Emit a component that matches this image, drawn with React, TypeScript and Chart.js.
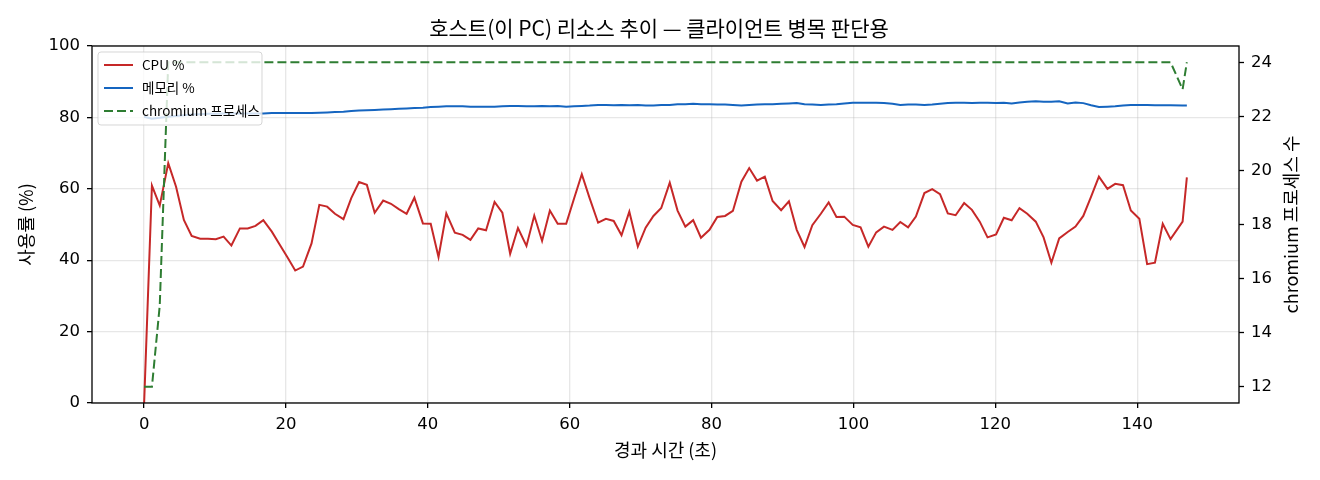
import React, { useEffect, useRef } from "react";
import { Chart, registerables } from "chart.js";

Chart.register(...registerables);

// elapsed time (s) of each sample
const times = [
  0.0, 1.1, 2.2, 3.4, 4.5, 5.6, 6.7, 7.9, 9.0, 10.1,
  11.2, 12.3, 13.5, 14.6, 15.7, 16.8, 18.0, 19.1, 20.2, 21.3,
  22.4, 23.6, 24.7, 25.8, 26.9, 28.1, 29.2, 30.3, 31.4, 32.5,
  33.7, 34.8, 35.9, 37.0, 38.1, 39.3, 40.4, 41.5, 42.6, 43.8,
  44.9, 46.0, 47.1, 48.2, 49.4, 50.5, 51.6, 52.7, 53.9, 55.0,
  56.1, 57.2, 58.3, 59.5, 60.6, 61.7, 62.8, 64.0, 65.1, 66.2,
  67.3, 68.4, 69.6, 70.7, 71.8, 72.9, 74.1, 75.2, 76.3, 77.4,
  78.5, 79.7, 80.8, 81.9, 83.0, 84.2, 85.3, 86.4, 87.5, 88.6,
  89.8, 90.9, 92.0, 93.1, 94.2, 95.4, 96.5, 97.6, 98.7, 99.9,
  101.0, 102.1, 103.2, 104.3, 105.5, 106.6, 107.7, 108.8, 110.0, 111.1,
  112.2, 113.3, 114.4, 115.6, 116.7, 117.8, 118.9, 120.1, 121.2, 122.3,
  123.4, 124.5, 125.7, 126.8, 127.9, 129.0, 130.2, 131.3, 132.4, 133.5,
  134.6, 135.8, 136.9, 138.0, 139.1, 140.3, 141.4, 142.5, 143.6, 144.7,
  146.4, 147.0,
];

const cpuPercent = [
  0.0, 60.9, 55.3, 67.2, 60.6, 51.3, 46.8, 46.0, 46.0, 45.9,
  46.6, 44.1, 48.9, 48.9, 49.6, 51.2, 48.0, 44.4, 40.8, 37.1,
  38.2, 44.7, 55.5, 55.0, 53.0, 51.5, 57.4, 61.9, 61.1, 53.3,
  56.7, 55.8, 54.3, 53.0, 57.5, 50.3, 50.2, 40.9, 53.1, 47.7,
  47.1, 45.7, 48.9, 48.4, 56.3, 53.3, 41.8, 49.0, 44.0, 52.5,
  45.4, 53.9, 50.2, 50.2, 57.2, 64.1, 57.4, 50.5, 51.6, 51.0,
  47.0, 53.6, 43.8, 49.1, 52.4, 54.6, 61.7, 53.9, 49.4, 51.2,
  46.3, 48.5, 52.1, 52.4, 53.8, 62.0, 65.8, 62.3, 63.4, 56.6,
  54.0, 56.5, 48.5, 43.7, 49.8, 53.0, 56.2, 52.1, 52.2, 49.9,
  49.2, 43.8, 47.8, 49.4, 48.5, 50.7, 49.2, 52.2, 58.8, 59.9,
  58.5, 53.1, 52.6, 56.0, 54.1, 50.8, 46.4, 47.2, 51.9, 51.2,
  54.6, 53.0, 50.8, 46.4, 39.3, 46.1, 47.9, 49.4, 52.4, 57.8,
  63.4, 60.0, 61.4, 61.0, 53.9, 51.6, 38.9, 39.3, 50.2, 45.9,
  50.8, 63.2,
];

const memoryPercent = [
  80.2, 79.6, 79.9, 80.2, 80.4, 80.6, 80.8, 80.9, 81.0, 81.0,
  81.1, 81.1, 81.1, 81.1, 81.1, 81.1, 81.2, 81.2, 81.2, 81.2,
  81.2, 81.2, 81.3, 81.4, 81.5, 81.6, 81.8, 81.9, 82.0, 82.1,
  82.2, 82.3, 82.4, 82.5, 82.6, 82.7, 82.9, 83.0, 83.1, 83.1,
  83.1, 83.0, 83.0, 83.0, 83.0, 83.1, 83.2, 83.2, 83.1, 83.1,
  83.2, 83.1, 83.2, 83.0, 83.1, 83.2, 83.3, 83.5, 83.5, 83.4,
  83.5, 83.4, 83.5, 83.3, 83.3, 83.5, 83.5, 83.7, 83.7, 83.8,
  83.7, 83.7, 83.6, 83.6, 83.5, 83.3, 83.5, 83.6, 83.7, 83.7,
  83.8, 83.9, 84.0, 83.7, 83.6, 83.5, 83.6, 83.7, 83.9, 84.1,
  84.1, 84.1, 84.1, 84.0, 83.8, 83.5, 83.6, 83.6, 83.5, 83.6,
  83.8, 84.0, 84.1, 84.1, 84.0, 84.1, 84.1, 84.0, 84.1, 83.9,
  84.2, 84.4, 84.5, 84.4, 84.4, 84.5, 83.9, 84.2, 84.0, 83.4,
  82.9, 83.0, 83.1, 83.3, 83.5, 83.5, 83.5, 83.4, 83.4, 83.4,
  83.3, 83.3,
];

const chromiumCount = [
  12, 12, 15, 24, 24, 24, 24, 24, 24, 24,
  24, 24, 24, 24, 24, 24, 24, 24, 24, 24,
  24, 24, 24, 24, 24, 24, 24, 24, 24, 24,
  24, 24, 24, 24, 24, 24, 24, 24, 24, 24,
  24, 24, 24, 24, 24, 24, 24, 24, 24, 24,
  24, 24, 24, 24, 24, 24, 24, 24, 24, 24,
  24, 24, 24, 24, 24, 24, 24, 24, 24, 24,
  24, 24, 24, 24, 24, 24, 24, 24, 24, 24,
  24, 24, 24, 24, 24, 24, 24, 24, 24, 24,
  24, 24, 24, 24, 24, 24, 24, 24, 24, 24,
  24, 24, 24, 24, 24, 24, 24, 24, 24, 24,
  24, 24, 24, 24, 24, 24, 24, 24, 24, 24,
  24, 24, 24, 24, 24, 24, 24, 24, 24, 24,
  23, 24,
];

const xTicks = [0, 20, 40, 60, 80, 100, 120, 140];
const leftTicks = [0, 20, 40, 60, 80, 100];
const rightTicks = [12, 14, 16, 18, 20, 22, 24];

const seriesLabels = ["CPU %", "메모리 %", "chromium 프로세스"];
const chartTitle = "호스트(이 PC) 리소스 추이 — 클라이언트 병목 판단용";
const xTitle = "경과 시간 (초)";
const leftTitle = "사용률 (%)";
const rightTitle = "chromium 프로세스 수";

const FONT = '"Noto Sans CJK KR", "Noto Sans", sans-serif';
const NUM_FONT = '"DejaVu Sans", "Noto Sans CJK KR", sans-serif';
const GRID = "rgba(176,176,176,0.3)";

const decorPlugin = {
  id: "decor",
  afterDatasetsDraw(chart: any) {
    const { ctx, chartArea: a } = chart;
    ctx.save();
    // spines
    ctx.strokeStyle = "#000";
    ctx.lineWidth = 1.3;
    ctx.strokeRect(a.left, a.top, a.right - a.left, a.bottom - a.top);

    // legend
    const bx = a.left + 6;
    const by = a.top + 6;
    const bw = 164;
    const bh = 73;
    ctx.beginPath();
    (ctx as any).roundRect(bx, by, bw, bh, 3);
    ctx.fillStyle = "rgba(255,255,255,0.8)";
    ctx.fill();
    ctx.strokeStyle = "rgba(204,204,204,0.8)";
    ctx.lineWidth = 1;
    ctx.stroke();

    ctx.font = `13.5px ${FONT}`;
    ctx.textAlign = "left";
    ctx.textBaseline = "middle";
    chart.data.datasets.forEach((ds: any, i: number) => {
      const y = by + 13 + i * 23;
      ctx.beginPath();
      ctx.setLineDash(ds.borderDash || []);
      ctx.strokeStyle = ds.borderColor;
      ctx.lineWidth = 2;
      ctx.moveTo(bx + 6, y);
      ctx.lineTo(bx + 35, y);
      ctx.stroke();
      ctx.setLineDash([]);
      ctx.fillStyle = "#000";
      ctx.fillText(ds.label, bx + 44, y);
    });
    ctx.restore();
  },
  afterDraw(chart: any) {
    const { ctx, chartArea: a } = chart;
    ctx.save();
    ctx.fillStyle = "#000";
    ctx.textAlign = "center";
    ctx.textBaseline = "middle";
    ctx.font = `21px ${FONT}`;
    ctx.fillText(chartTitle, 659, 28);

    ctx.font = `18px ${FONT}`;
    ctx.fillText(xTitle, (a.left + a.right) / 2, 450);

    const midY = (a.top + a.bottom) / 2;
    ctx.save();
    ctx.translate(26, midY);
    ctx.rotate(-Math.PI / 2);
    ctx.fillText(leftTitle, 0, 0);
    ctx.restore();

    ctx.save();
    ctx.translate(1291, midY);
    ctx.rotate(-Math.PI / 2);
    ctx.fillText(rightTitle, 0, 0);
    ctx.restore();
    ctx.restore();
  },
};

export default function App() {
  const ref = useRef<HTMLCanvasElement | null>(null);

  useEffect(() => {
    if (!ref.current) return;
    const tickFont = { family: NUM_FONT, size: 16.5 };
    const chart = new Chart(ref.current, {
      type: "line",
      data: {
        datasets: [
          {
            label: seriesLabels[0],
            data: times.map((t, i) => ({ x: t, y: cpuPercent[i] })),
            borderColor: "#c62828",
            borderWidth: 2,
            pointRadius: 0,
            tension: 0,
            yAxisID: "y",
            order: 1,
          },
          {
            label: seriesLabels[1],
            data: times.map((t, i) => ({ x: t, y: memoryPercent[i] })),
            borderColor: "#1565c0",
            borderWidth: 2,
            pointRadius: 0,
            tension: 0,
            yAxisID: "y",
            order: 2,
          },
          {
            label: seriesLabels[2],
            data: times.map((t, i) => ({ x: t, y: chromiumCount[i] })),
            borderColor: "#2e7d32",
            borderWidth: 2,
            borderDash: [9, 4],
            pointRadius: 0,
            tension: 0,
            yAxisID: "y2",
            order: 0,
          },
        ],
      },
      options: {
        animation: false,
        responsive: false,
        events: [],
        layout: { padding: { top: 46, left: 0, right: 0, bottom: 0 } },
        plugins: {
          legend: { display: false },
          title: { display: false },
          tooltip: { enabled: false },
        },
        scales: {
          x: {
            type: "linear",
            min: -7.35,
            max: 154.35,
            afterBuildTicks: (s: any) => {
              s.ticks = xTicks.map((v) => ({ value: v }));
            },
            afterFit: (s: any) => {
              s.height = 77;
            },
            ticks: { font: tickFont, color: "#000", padding: 7, maxRotation: 0, autoSkip: false },
            grid: { color: GRID, lineWidth: 1.3, tickColor: "#000", tickLength: 5, tickWidth: 1.3 },
            border: { display: false },
          },
          y: {
            type: "linear",
            position: "left",
            min: 0,
            max: 100,
            afterBuildTicks: (s: any) => {
              s.ticks = leftTicks.map((v) => ({ value: v }));
            },
            afterFit: (s: any) => {
              s.width = 92;
            },
            ticks: { font: tickFont, color: "#000", padding: 7 },
            grid: { color: GRID, lineWidth: 1.3, tickColor: "#000", tickLength: 5, tickWidth: 1.3 },
            border: { display: false },
          },
          y2: {
            type: "linear",
            position: "right",
            min: 11.4,
            max: 24.6,
            afterBuildTicks: (s: any) => {
              s.ticks = rightTicks.map((v) => ({ value: v }));
            },
            afterFit: (s: any) => {
              s.width = 81;
            },
            ticks: { font: tickFont, color: "#000", padding: 7 },
            grid: { drawOnChartArea: false, tickColor: "#000", tickLength: 5, tickWidth: 1.3 },
            border: { display: false },
          },
        },
      },
      plugins: [decorPlugin],
    } as any);
    return () => chart.destroy();
  }, []);

  return (
    <div style={{ position: "absolute", left: 0, top: 0, width: 1320, height: 480, background: "#fff" }}>
      <canvas ref={ref} width={1320} height={480} />
    </div>
  );
}
